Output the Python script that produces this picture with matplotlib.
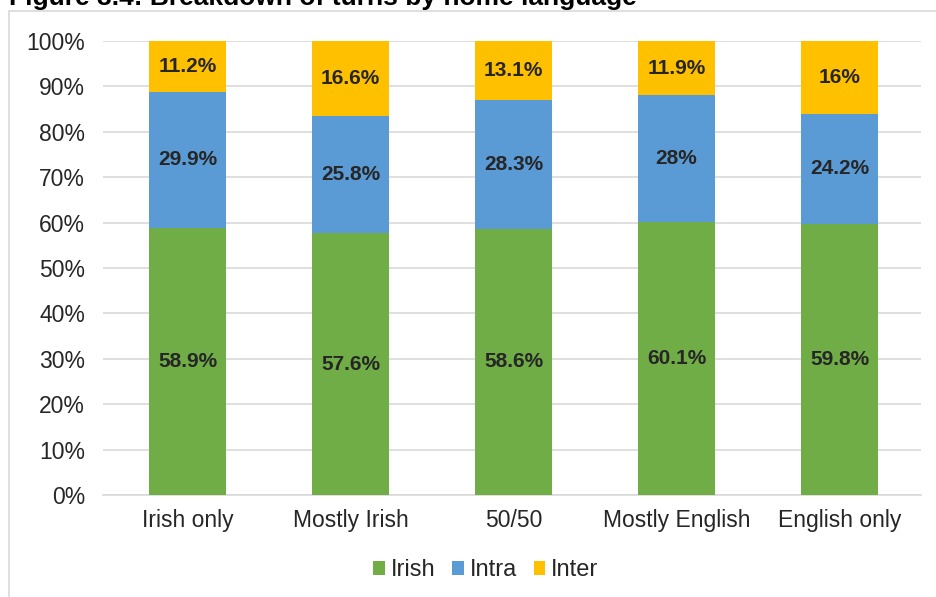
import numpy as np
import matplotlib.pyplot as plt
from matplotlib.patches import Rectangle

plt.rcParams['font.family'] = ['Liberation Sans', 'DejaVu Sans']

# turns by home language, percent of all turns
groups = ['Irish only', 'Mostly Irish', '50/50', 'Mostly English', 'English only']
irish = [58.9, 57.6, 58.6, 60.1, 59.8]
intra = [29.9, 25.8, 28.3, 28.0, 24.2]
inter = [11.2, 16.6, 13.1, 11.9, 16.0]
irish_lbl = ['58.9%', '57.6%', '58.6%', '60.1%', '59.8%']
intra_lbl = ['29.9%', '25.8%', '28.3%', '28%', '24.2%']
inter_lbl = ['11.2%', '16.6%', '13.1%', '11.9%', '16%']

W, H = 937, 597
fig = plt.figure(figsize=(W / 100, H / 100), dpi=100)

# outer chart frame (runs off the right and bottom edges)
fig.patches.append(Rectangle((9 / W, -0.05), 1.0, 1 - 11 / H + 0.05,
                             transform=fig.transFigure, fill=False,
                             edgecolor='#D9D9D9', linewidth=1.2))
fig.text(9 / W, 1 - 5 / H, 'Figure 3.4: Breakdown of turns by home language',
         fontsize=19, fontweight='bold', color='black', va='baseline', ha='left')

ax = fig.add_axes([103 / W, 1 - 495 / H, (921 - 103) / W, (495 - 41) / H])

x = np.arange(len(groups))
width = 0.47
b1 = ax.bar(x, irish, width, color='#70AD47', label='Irish', zorder=3)
b2 = ax.bar(x, intra, width, bottom=irish, color='#5B9BD5', label='Intra', zorder=3)
bottom2 = np.array(irish) + np.array(intra)
b3 = ax.bar(x, inter, width, bottom=bottom2, color='#FFC000', label='Inter', zorder=3)

for bars, lbls in [(b1, irish_lbl), (b2, intra_lbl), (b3, inter_lbl)]:
    ax.bar_label(bars, labels=lbls, label_type='center', fontsize=15,
                 fontweight='bold', color='#262626')

ax.set_xlim(-0.52, 4.5)
ax.set_ylim(0, 100)
ax.set_yticks(np.arange(0, 101, 10))
ax.set_yticklabels([f'{v}%' for v in range(0, 101, 10)])
ax.set_xticks(x)
ax.set_xticklabels(groups)
ax.tick_params(axis='both', length=0, labelsize=16.5, colors='#262626')
ax.tick_params(axis='y', pad=13)
ax.tick_params(axis='x', pad=10)
ax.grid(axis='y', color='#D9D9D9', linewidth=1.2, zorder=0)
for s in ['top', 'right', 'left']:
    ax.spines[s].set_visible(False)
ax.spines['bottom'].set_color('#D9D9D9')
ax.spines['bottom'].set_linewidth(1.2)

ax.legend(loc='upper center', bbox_to_anchor=(0.468, -0.095), ncol=3, frameon=False,
          fontsize=17, handlelength=0.5, handleheight=0.5, handletextpad=0.25,
          columnspacing=0.7, labelcolor='#262626')

fig.savefig('out.png', dpi=100)
